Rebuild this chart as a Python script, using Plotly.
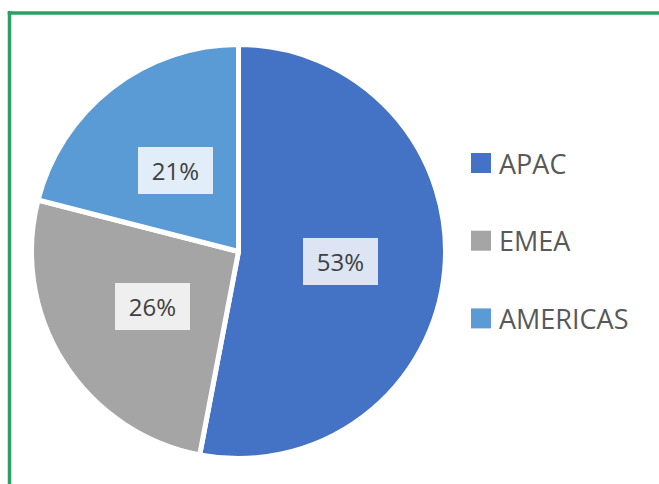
import math
import plotly.graph_objects as go

regions = ["APAC", "EMEA", "AMERICAS"]
shares = [53, 26, 21]
colors = ["#4472C4", "#A5A5A5", "#5B9BD5"]

W, H = 659, 484
CX, CY, R = 238.5, 251.5, 204.5

fig = go.Figure()
fig.add_trace(go.Pie(
    labels=regions, values=shares, sort=False, direction="clockwise", rotation=0,
    marker=dict(colors=colors, line=dict(color="white", width=5)),
    textinfo="none", hoverinfo="label+percent", showlegend=False,
    domain=dict(x=[(CX - R - 2.5) / W, (CX + R + 2.5) / W], y=[1 - (CY + R + 2.5) / H, 1 - (CY - R - 2.5) / H]),
))

# data labels with light boxes, positioned at mid-angle of each slice
total = sum(shares)
cum = 0
annotations = []
for name, v in zip(regions, shares):
    mid = (cum + v / 2) / total * 2 * math.pi
    cum += v
    px = CX + 0.5 * R * math.sin(mid)
    py = CY - 0.5 * R * math.cos(mid)
    annotations.append(dict(
        x=px / W, y=1 - py / H, xref="paper", yref="paper", showarrow=False,
        text=f"{round(v / total * 100)}%", font=dict(family="Open Sans", size=24, color="#404040"),
        bgcolor="rgba(255,255,255,0.82)", borderwidth=0, borderpad=6, width=63, height=35,
        xanchor="center", yanchor="middle",
    ))

# legend
shapes = []
LX, LY0, LDY, SQ = 471, 163, 77.7, 20
for i, (name, c) in enumerate(zip(regions, colors)):
    yc = LY0 + i * LDY
    shapes.append(dict(type="rect", xref="paper", yref="paper",
                       x0=LX / W, x1=(LX + SQ) / W, y0=1 - (yc + SQ / 2) / H, y1=1 - (yc - SQ / 2) / H,
                       fillcolor=c, line=dict(width=0)))
    annotations.append(dict(x=(LX + SQ + 6) / W, y=1 - yc / H, xref="paper", yref="paper",
                            showarrow=False, text=name, xanchor="left", yanchor="middle",
                            font=dict(family="Open Sans", size=27, color="#595959")))

# green frame (left and top)
green = "#2E9E62"
shapes.append(dict(type="line", xref="paper", yref="paper", x0=9.5 / W, x1=9.5 / W, y0=0, y1=1 - 11 / H,
                   line=dict(color=green, width=3.5)))
shapes.append(dict(type="line", xref="paper", yref="paper", x0=7.75 / W, x1=1, y0=1 - 13 / H, y1=1 - 13 / H,
                   line=dict(color=green, width=3.5)))

fig.update_layout(
    width=W, height=H, margin=dict(l=0, r=0, t=0, b=0),
    paper_bgcolor="white", plot_bgcolor="white",
    shapes=shapes, annotations=annotations, showlegend=False,
)
fig.write_html("out.html", config={"displayModeBar": False},
               post_script="document.body.style.margin='0';")
